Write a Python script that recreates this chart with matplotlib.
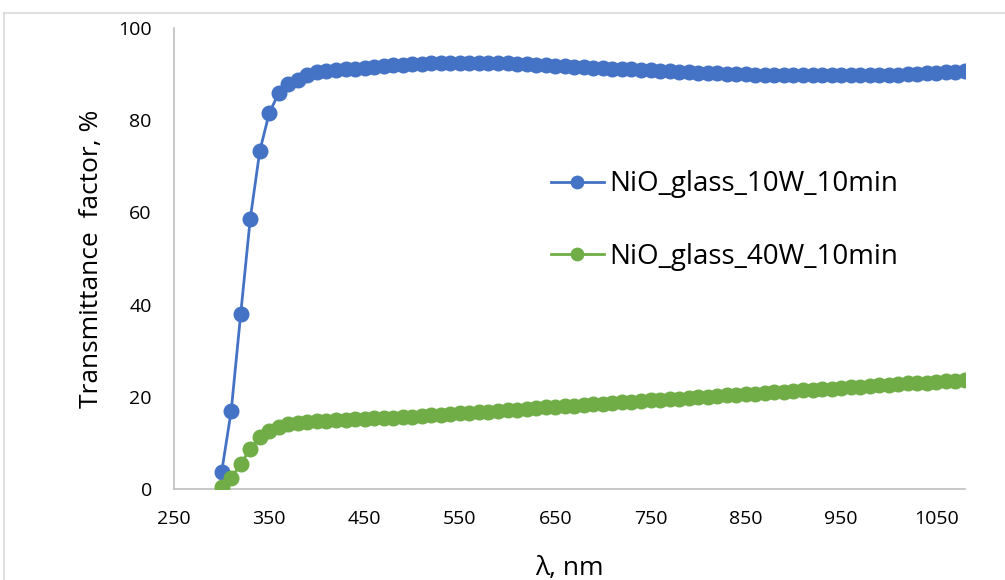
import matplotlib
matplotlib.use("Agg")
import matplotlib.pyplot as plt
from matplotlib.lines import Line2D
import numpy as np

plt.rcParams["font.family"] = ["Open Sans", "DejaVu Sans"]

wavelength = list(range(300, 1090, 10))

t_10w = [3.7, 16.9, 38.0, 58.6, 73.3, 81.6, 85.9, 87.9, 88.7, 89.8,
         90.4, 90.6, 90.8, 91.0, 91.2, 91.4, 91.6, 91.8, 91.9, 92.0,
         92.1, 92.2, 92.3, 92.4, 92.4, 92.5, 92.5, 92.5, 92.4, 92.4,
         92.3, 92.2, 92.1, 92.0, 91.9, 91.8, 91.7, 91.6, 91.5, 91.4,
         91.3, 91.2, 91.1, 91.0, 90.9, 90.8, 90.7, 90.6, 90.5, 90.4,
         90.3, 90.2, 90.2, 90.1, 90.0, 90.0, 89.9, 89.9, 89.8, 89.8,
         89.8, 89.7, 89.7, 89.7, 89.7, 89.7, 89.7, 89.8, 89.8, 89.8,
         89.9, 89.9, 90.0, 90.1, 90.2, 90.3, 90.4, 90.5, 90.6]

t_40w = [0.4, 2.4, 5.4, 8.7, 11.3, 12.6, 13.4, 14.0, 14.3, 14.5,
         14.7, 14.8, 14.9, 15.0, 15.1, 15.2, 15.3, 15.4, 15.5, 15.6,
         15.7, 15.9, 16.0, 16.1, 16.3, 16.4, 16.5, 16.7, 16.8, 16.9,
         17.1, 17.2, 17.4, 17.5, 17.7, 17.8, 17.9, 18.1, 18.2, 18.4,
         18.5, 18.7, 18.8, 18.9, 19.1, 19.2, 19.3, 19.5, 19.6, 19.8,
         19.9, 20.0, 20.2, 20.3, 20.4, 20.6, 20.7, 20.8, 21.0, 21.1,
         21.3, 21.4, 21.5, 21.7, 21.8, 21.9, 22.1, 22.2, 22.3, 22.5,
         22.6, 22.7, 22.9, 23.0, 23.1, 23.3, 23.4, 23.5, 23.6]

x_ticks = [250, 350, 450, 550, 650, 750, 850, 950, 1050]
y_ticks = [0, 20, 40, 60, 80, 100]

BLUE = "#4472C4"
GREEN = "#70AD47"
AXIS = "#BFBFBF"
TEXT = "#000000"

fig = plt.figure(figsize=(10.05, 5.8), dpi=100)
ax = fig.add_axes([174 / 1005, 1 - 489 / 580, (965 - 174) / 1005, (489 - 28) / 580])

ax.plot(wavelength, t_10w, color=BLUE, lw=2.0, marker="o", ms=10.5,
        label="NiO_glass_10W_10min", zorder=3)
ax.plot(wavelength, t_40w, color=GREEN, lw=2.0, marker="o", ms=10.5,
        label="NiO_glass_40W_10min", zorder=3)

ax.set_xlim(250, 1080)
ax.set_ylim(0, 100)
ax.set_xticks(x_ticks)
ax.set_yticks(y_ticks)
ax.tick_params(length=0, labelsize=14, colors=TEXT)
ax.tick_params(axis="y", pad=16)
ax.tick_params(axis="x", pad=15)

for s in ("top", "right"):
    ax.spines[s].set_visible(False)
for s in ("left", "bottom"):
    ax.spines[s].set_color(AXIS)
    ax.spines[s].set_linewidth(1.2)

ax.set_xlabel("λ, nm", fontsize=19, labelpad=20)
ax.set_ylabel("Transmittance  factor, %", fontsize=19, labelpad=10)

ax.legend(loc="center left", bbox_to_anchor=(0.459, 0.582), frameon=False,
          fontsize=20, labelspacing=1.6, handlelength=1.9, handletextpad=0.2,
          borderpad=0, markerscale=0.85)

# outer chart-area border (cropped at right/bottom)
fig.add_artist(Line2D([4 / 1005, 1], [1 - 13 / 580] * 2, transform=fig.transFigure,
                      color="#D9D9D9", lw=1.2))
fig.add_artist(Line2D([4 / 1005] * 2, [0, 1 - 13 / 580], transform=fig.transFigure,
                      color="#D9D9D9", lw=1.2))

fig.savefig("out.png", dpi=100)
